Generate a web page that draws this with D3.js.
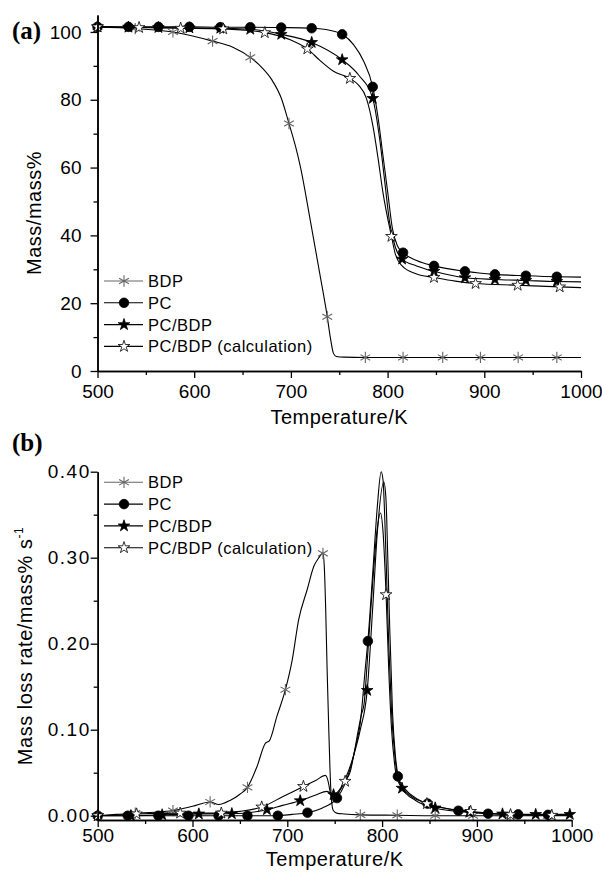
<!DOCTYPE html>
<html>
<head>
<meta charset="utf-8">
<script src="https://cdn.jsdelivr.net/npm/d3@7"></script>
<style>
body { margin: 0; background: #fff; }
svg { display: block; }
</style>
</head>
<body>
<svg width="602" height="880"></svg>
<script>
// ---- data ----
var seriesNames = ["BDP", "PC", "PC/BDP", "PC/BDP (calculation)"];

var tempTicks = [500, 600, 700, 800, 900, 1000],
    tempMinor = [550, 650, 750, 850, 950],
    massTicks = [0, 20, 40, 60, 80, 100],
    massMinor = [10, 30, 50, 70, 90],
    rateTicks = [0, 0.1, 0.2, 0.3, 0.4],
    rateMinor = [0.05, 0.15, 0.25, 0.35];

// (a) mass vs temperature
var bdpMassT = [500, 539, 578, 619, 640, 658, 670, 680, 690, 698, 705, 710, 720, 730, 737.6, 741, 744, 747, 755, 777, 816, 857, 896, 935, 975, 1000],
    bdpMass = [101.5, 101, 100, 97.3, 95.5, 92.5, 89.5, 86, 80.5, 73, 66, 60, 44.5, 28.5, 16, 9.5, 5.2, 4.3, 4.1, 4.0, 4.0, 4.0, 4.0, 4.0, 4.0, 4.0],
    bdpMassMarks = [500, 539, 578, 619, 658, 698, 737.6, 777, 816, 857, 896, 935, 975];

var pcMassT = [500, 532, 563, 595, 627, 658, 690, 721.5, 740, 753, 765, 775, 784.6, 790, 795, 800, 805, 810, 816, 830, 848, 880, 911, 943, 975, 1000],
    pcMass = [101.5, 101.5, 101.5, 101.5, 101.4, 101.4, 101.3, 101.1, 100.5, 99.3, 96.2, 91.5, 83.8, 75, 64, 53, 42, 37, 34.9, 32.6, 31, 29.4, 28.5, 28.1, 27.8, 27.7],
    pcMassMarks = [500, 532, 563, 595, 627, 658, 690, 721.5, 753, 784.6, 816, 848, 880, 911, 943, 975];

var mixMassT = [500, 532, 563, 595, 627, 658, 690, 721.5, 753, 770, 784.6, 792, 797, 802, 808, 815, 830, 848, 880, 911, 943, 975, 1000],
    mixMass = [101.5, 101.4, 101.3, 101.2, 101.1, 100.8, 99.3, 96.9, 91.8, 87.3, 80.4, 68, 56, 44, 36.5, 33, 31, 29.4, 27.5, 27, 26.7, 26.4, 26.3],
    mixMassMarks = [500, 532, 563, 595, 627, 658, 690, 721.5, 753, 784.6, 815, 848, 880, 911, 943, 975];

var calcMassT = [500, 543, 586, 630, 673, 700, 717, 730, 744, 761, 770, 778, 785, 790, 795, 804, 808, 815, 830, 848, 870, 891, 934.5, 978, 1000],
    calcMass = [101.5, 101.3, 101.1, 100.9, 99.8, 97.6, 95.0, 91.6, 88.4, 86.3, 84.3, 80.5, 72, 63, 53, 39.7, 34.5, 31, 28.6, 27.6, 26.5, 25.8, 25.3, 24.8, 24.6],
    calcMassMarks = [500, 543, 586, 630, 673, 717, 761, 804, 848, 891, 934.5, 978];

// (b) mass loss rate vs temperature
var bdpRateT = [500, 520, 539.6, 560, 579.4, 600, 618.6, 627.6, 640, 650, 658, 668, 677, 681, 689, 698, 705, 712, 721, 728, 733, 737.6, 739, 740.5, 742, 743.5, 745, 746.5, 748.5, 752, 760, 777, 816, 856, 896, 935, 975, 1000],
    bdpRate = [0, 0.0015, 0.003, 0.004, 0.006, 0.011, 0.016, 0.013, 0.018, 0.025, 0.033, 0.057, 0.0845, 0.087, 0.1155, 0.1465, 0.18, 0.228, 0.263, 0.29, 0.2996, 0.305, 0.29, 0.24, 0.17, 0.11, 0.055, 0.02, 0.006, 0.003, 0.002, 0.001, 0.0005, 0, 0, 0, 0, 0],
    bdpRateMarks = [500, 539.6, 579.4, 618.6, 658, 698, 737.6, 777, 816, 856, 896, 935, 975];

var pcRateT = [500, 531.7, 564, 595.7, 627.5, 658, 690, 705, 721.3, 737, 752.4, 760, 767, 772, 777, 782.5, 785, 790, 795, 799, 801, 803, 805, 807, 810, 813, 816.6, 825, 835, 848, 865, 880.5, 895, 911.8, 943.5, 975, 1000],
    pcRate = [0, 0, 0, 0, 0, 0, 0, 0.0015, 0.0035, 0.009, 0.0205, 0.035, 0.057, 0.08, 0.108, 0.174, 0.203, 0.28, 0.36, 0.40, 0.39, 0.34, 0.27, 0.2, 0.12, 0.075, 0.0457, 0.03, 0.021, 0.014, 0.009, 0.0058, 0.004, 0.0023, 0.0015, 0.001, 0.001],
    pcRateMarks = [500, 531.7, 564, 595.7, 627.5, 658, 690, 721.3, 752.4, 785, 816.6, 848, 880.5, 911.8, 943.5, 975];

var mixRateT = [500, 535, 568, 606.7, 641.5, 678.5, 695, 713.6, 730, 741.8, 748.8, 755, 762, 770, 777, 784.3, 790, 795, 801.8, 804, 806, 808, 811, 814, 817, 821, 835, 856, 880, 892, 927, 962, 998, 1000],
    mixRate = [0, 0, 0.001, 0.002, 0.0023, 0.007, 0.012, 0.0174, 0.024, 0.0283, 0.0244, 0.03, 0.045, 0.07, 0.1, 0.1457, 0.24, 0.33, 0.388, 0.37, 0.3, 0.22, 0.12, 0.07, 0.045, 0.032, 0.018, 0.009, 0.005, 0.004, 0.002, 0.0015, 0.0015, 0.0015],
    mixRateMarks = [500, 535, 568, 606.7, 641.5, 678.5, 713.6, 748.8, 784.3, 821, 856, 892, 927, 962, 998];

var calcRateT = [500, 541, 587, 630.4, 650, 673, 695, 717, 730, 740.2, 743.5, 745.5, 747.2, 752, 757, 761, 766.5, 770, 775, 778, 781, 785, 790, 794.5, 798.3, 801, 804.2, 807, 810, 813, 816, 825, 847.3, 870, 893.4, 935.5, 979, 1000],
    calcRate = [0, 0.002, 0.003, 0.003, 0.005, 0.0101, 0.022, 0.034, 0.041, 0.0469, 0.038, 0.026, 0.0205, 0.024, 0.032, 0.04, 0.0515, 0.07, 0.1, 0.117, 0.13, 0.19, 0.27, 0.33, 0.352, 0.33, 0.257, 0.17, 0.1, 0.062, 0.042, 0.028, 0.014, 0.008, 0.005, 0.0012, 0.0005, 0.0005],
    calcRateMarks = [500, 541, 587, 630.4, 673, 717, 761, 804.2, 847.3, 893.4, 935.5, 979];

// ---- drawing ----
var svg = d3.select("svg"),
    font = "'Liberation Sans', Arial, sans-serif";

var symbolOf = {
    "BDP": {type: d3.symbolAsterisk, size: 90, fill: "none", stroke: "#666"},
    "PC": {type: d3.symbolCircle, size: 72, fill: "#000", stroke: "#000"},
    "PC/BDP": {type: d3.symbolStar, size: 42, fill: "#000", stroke: "#000"},
    "PC/BDP (calculation)": {type: d3.symbolStar, size: 42, fill: "#fff", stroke: "#000"}
};

var zip = (t, v) => t.map((d, i) => ({t: d, v: v[i]}));

function marker(g, name, px, py) {
    var s = symbolOf[name];
    g.append("path")
        .attr("d", d3.symbol(s.type, s.size)())
        .attr("transform", "translate(" + px + "," + py + ")")
        .attr("fill", s.fill)
        .attr("stroke", s.stroke)
        .attr("stroke-width", name == "BDP" ? 1.1 : 0.8);
}

function panel(p) {
    var g = svg.append("g");
    var x = d3.scaleLinear().domain([500, 1000]).range(p.xRange),
        y = d3.scaleLinear().domain(p.yDomain).range(p.yRange);

    var line = d3.line().x(d => x(d.t)).y(d => y(d.v)).curve(d3.curveMonotoneX);

    p.series.forEach((s, k) => {
        var pts = zip(s.t, s.v);
        g.append("path")
            .datum(pts)
            .attr("d", line)
            .attr("fill", "none")
            .attr("stroke", "#000")
            .attr("stroke-width", 1.1);
        pts.filter(d => s.marks.indexOf(d.t) >= 0).forEach(d => {
            marker(g, seriesNames[k], x(d.t), y(d.v));
        });
    });

    // axes
    g.append("g").attr("transform", "translate(0," + p.yRange[0] + ")")
        .call(d3.axisBottom(x).tickValues(tempTicks).tickSize(7).tickSizeOuter(0).tickPadding(p.xPad).tickFormat(d3.format("d")));
    g.append("g").attr("transform", "translate(0," + p.yRange[0] + ")")
        .call(d3.axisBottom(x).tickValues(tempMinor).tickSize(4).tickSizeOuter(0).tickFormat(""));
    var yAxis = g.append("g").attr("transform", "translate(" + p.xRange[0] + ",0)")
        .call(d3.axisLeft(y).tickValues(p.yTicks).tickSize(7).tickSizeOuter(0).tickPadding(p.yPad).tickFormat(p.yFormat));
    g.append("g").attr("transform", "translate(" + p.xRange[0] + ",0)")
        .call(d3.axisLeft(y).tickValues(p.yMinor).tickSize(4).tickSizeOuter(0).tickFormat(""));

    g.selectAll(".domain").attr("stroke-width", 1.5);
    g.selectAll(".tick line").attr("stroke-width", 1.3);
    g.selectAll(".tick text").attr("font-family", font).attr("font-size", 19).attr("fill", "#000");
    yAxis.selectAll(".tick text").attr("letter-spacing", p.ySpacing);

    // axis titles
    g.append("text")
        .attr("x", (p.xRange[0] + p.xRange[1]) / 2).attr("y", p.xTitleY)
        .attr("text-anchor", "middle")
        .attr("font-family", font).attr("font-size", 20).attr("letter-spacing", 0.5)
        .text("Temperature/K");

    var yt = g.append("text")
        .attr("transform", "translate(" + p.yTitle[0] + "," + p.yTitle[1] + ") rotate(-90)")
        .attr("text-anchor", "middle")
        .attr("font-family", font).attr("font-size", 20).attr("letter-spacing", 0.5);
    yt.append("tspan").text(p.yLabel);
    if (p.ySup) {
        yt.append("tspan").attr("dy", -9).attr("font-size", 12).text(p.ySup);
    }

    // panel tag
    g.append("text")
        .attr("x", 12).attr("y", p.tagY)
        .attr("font-family", "'Liberation Serif', 'Times New Roman', serif")
        .attr("font-weight", "bold").attr("font-size", 25)
        .text(p.tag);

    // legend
    var lg = g.append("g").attr("transform", "translate(104," + p.legendY + ")");
    seriesNames.forEach((n, i) => {
        var row = i * 21.8;
        lg.append("line").attr("x1", 0).attr("x2", 39).attr("y1", row).attr("y2", row)
            .attr("stroke", n == "BDP" ? "#666" : "#000").attr("stroke-width", 1.1);
        marker(lg, n, 20, row);
        lg.append("text").attr("x", 44).attr("y", row).attr("dy", "0.36em")
            .attr("font-family", font).attr("font-size", 16.5).attr("letter-spacing", 0.5)
            .text(n);
    });
}

panel({
    xRange: [97.5, 581], yDomain: [0, 105], yRange: [371, 15],
    yTicks: massTicks, yMinor: massMinor, yFormat: d3.format("d"), ySpacing: 0,
    xPad: 7, yPad: 9, xTitleY: 424, yTitle: [41, 213],
    yLabel: "Mass/mass%", tag: "(a)", tagY: 39, legendY: 281,
    series: [
        {t: bdpMassT, v: bdpMass, marks: bdpMassMarks},
        {t: pcMassT, v: pcMass, marks: pcMassMarks},
        {t: mixMassT, v: mixMass, marks: mixMassMarks},
        {t: calcMassT, v: calcMass, marks: calcMassMarks}
    ]
});

panel({
    xRange: [97.7, 571.7], yDomain: [-0.005, 0.40], yRange: [820, 471.7],
    yTicks: rateTicks, yMinor: rateMinor, yFormat: d3.format(".2f"), ySpacing: 1.5,
    xPad: 2, yPad: 0, xTitleY: 866, yTitle: [31.5, 646],
    yLabel: "Mass loss rate/mass% s", ySup: "-1", tag: "(b)", tagY: 451, legendY: 482.3,
    series: [
        {t: bdpRateT, v: bdpRate, marks: bdpRateMarks},
        {t: pcRateT, v: pcRate, marks: pcRateMarks},
        {t: mixRateT, v: mixRate, marks: mixRateMarks},
        {t: calcRateT, v: calcRate, marks: calcRateMarks}
    ]
});
</script>
</body>
</html>
